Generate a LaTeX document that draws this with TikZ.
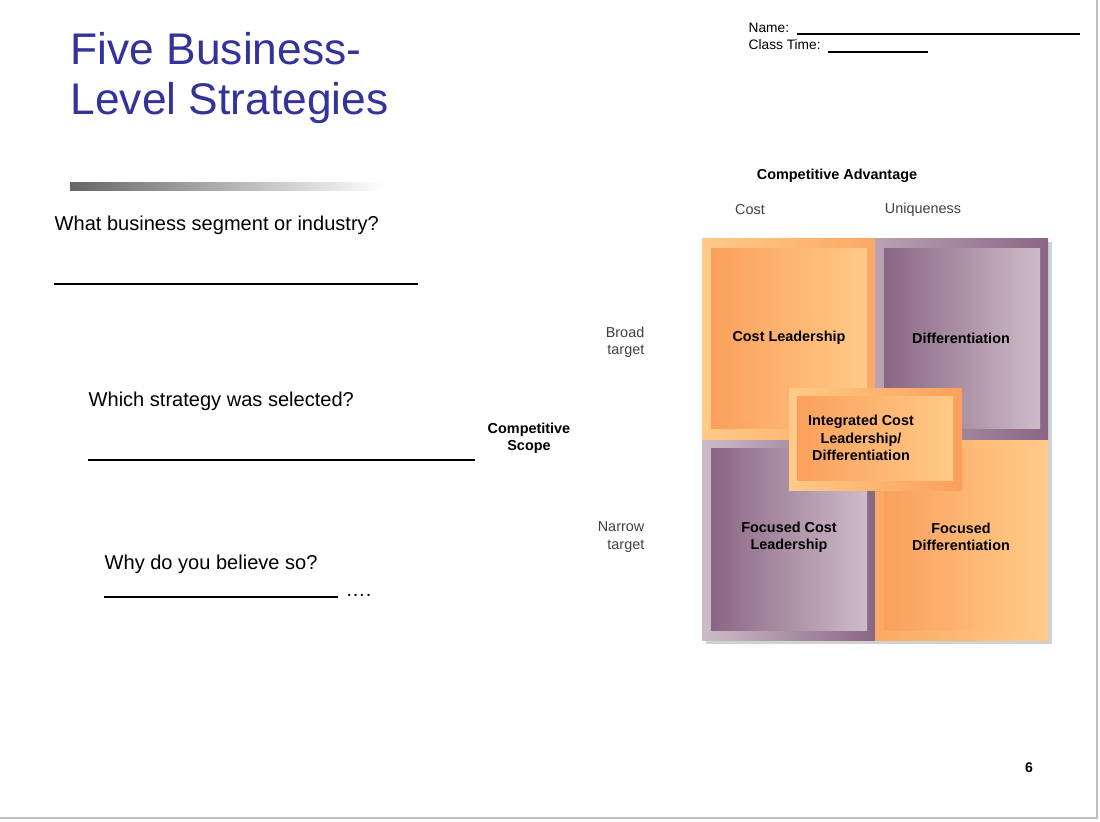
\documentclass[tikz,border=0pt]{standalone}
\usepackage{fontspec}
\setmainfont{Liberation Sans}
\definecolor{ttl}{RGB}{51,51,153}
\definecolor{orD}{RGB}{250,160,92}
\definecolor{orL}{RGB}{255,202,135}
\definecolor{puD}{RGB}{138,102,132}
\definecolor{puL}{RGB}{205,188,200}
\newcommand{\fs}[1]{\fontsize{#1pt}{1.2\dimexpr#1pt\relax}\selectfont}
\begin{document}
\begin{tikzpicture}[x=0.01cm,y=-0.01cm,
  body/.style={anchor=base west,inner sep=0,font=\fs{5.7}},
  lab/.style={align=center,inner sep=0,font=\fs{4.1}\bfseries},
  axl/.style={align=right,inner sep=0,font=\fs{4.1},text=black!75},
  uline/.style={line width=0.35pt}]
\useasboundingbox (0,0) rectangle (1100,821);
\fill[white] (0,0) rectangle (1100,821);
\draw[black!25,line width=0.6pt] (1097,0) -- (1097,818) -- (0,818);
% title
\node[anchor=north west,inner sep=0,align=left,text=ttl,font=\fs{12.6},text depth=0] (title) at (70,32) {Five Business-\\[-1pt]Level Strategies};
\shade[left color=black!60,right color=white] (70,182) rectangle (385,190);
% header
\node[anchor=base west,inner sep=0,font=\fs{3.9}] (name) at (748,32) {Name:};
\node[anchor=base west,inner sep=0,font=\fs{3.9}] (ct) at (748,50) {Class Time:};
\draw[uline] (797,34) -- (1080,34);
\draw[uline] (828,52) -- (928,52);
% questions
\node[body] (q1) at (54,230) {What business segment or industry?};
\draw[uline] (54,284) -- (418,284);
\node[body] (q2) at (88,406) {Which strategy was selected?};
\draw[uline] (88,460) -- (475,460);
\node[body] (q3) at (104,569) {Why do you believe so?};
\draw[uline] (104,597) -- (338,597);
\node[body] (dots) at (345,596) {….};
% axis labels
\node[lab] (ca) at (837,176) {Competitive Advantage};
\node[axl] (cost) at (750,210) {Cost};
\node[axl] (uniq) at (923,210) {Uniqueness};
\node[lab] (cs) at (529,438) {Competitive\\Scope};
\node[axl,anchor=east] (bt) at (645,342) {Broad\\target};
\node[axl,anchor=east] (nt) at (645,537) {Narrow\\target};
% grid shadow
\fill[black!18] (706,242) rectangle (1052,644);
% quadrants outer
\shade[left color=orL,right color=orD!80!orL] (702,238) rectangle (875,440);
\shade[left color=puL!70!puD,right color=puD] (875,238) rectangle (1048,440);
\shade[left color=puL,right color=puD] (702,440) rectangle (875,640);
\shade[left color=orD!80!orL,right color=orL] (875,440) rectangle (1048,640);
% inner
\shade[left color=orD,right color=orL] (711,248) rectangle (867,428);
\shade[left color=puD,right color=puL] (884,248) rectangle (1040,428);
\shade[left color=puD,right color=puL] (711,448) rectangle (867,630);
\shade[left color=orD,right color=orL] (884,448) rectangle (1040,630);
% center
\shade[left color=orL,right color=orD] (789,388) rectangle (962,490);
\shade[left color=orD,right color=orL] (797,396) rectangle (953,480);
\node[lab] (cl) at (789,338) {Cost Leadership};
\node[lab] (df) at (961,338) {Differentiation};
\node[lab] (fc) at (789,537) {Focused Cost\\Leadership};
\node[lab] (fd) at (961,537) {Focused\\Differentiation};
\node[lab] (ic) at (861,438) {Integrated Cost\\Leadership/\\Differentiation};
\node[inner sep=0,font=\fs{4}\bfseries] (pg) at (1029,768) {6};
\end{tikzpicture}
\end{document}
